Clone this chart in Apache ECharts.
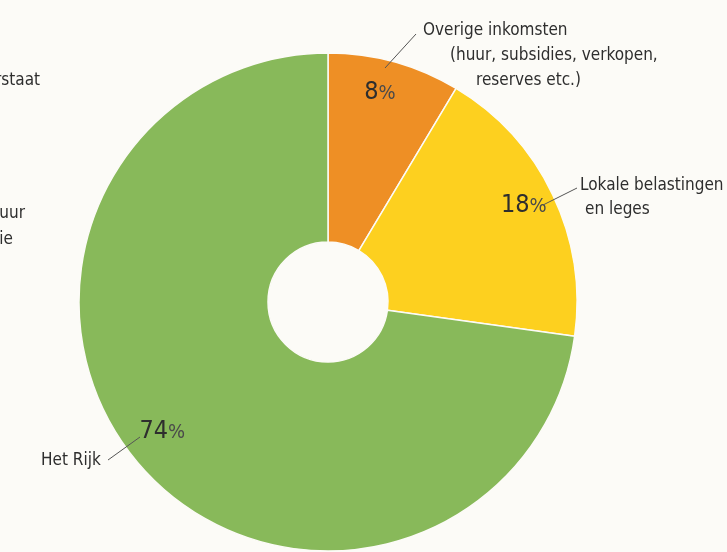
<!DOCTYPE html>
<html>
<head>
<meta charset="utf-8">
<style>
html,body{margin:0;padding:0;background:#fcfbf7;}
#c{width:727px;height:552px;}
</style>
<script src="https://cdn.jsdelivr.net/npm/echarts@6/dist/echarts.min.js"></script>
</head>
<body>
<div id="c"></div>
<script>
// ---- data ----
const categories = ['Overige inkomsten', 'Lokale belastingen en leges', 'Het Rijk'];
const shares = [8.6, 18.6, 72.8];          // slice sizes as drawn
const percentLabels = ['8', '18', '74'];   // printed percentages
const nameLines = [
  ['Overige inkomsten', '(huur, subsidies, verkopen,', 'reserves etc.)'],
  ['Lokale belastingen', 'en leges'],
  ['Het Rijk']
];
const cutOffTexts = ['rstaat', 'uur', 'ie'];

// ---- style / layout ----
const colors = ['#ee8f25', '#fdd01f', '#88b95a'];
const FONT = "'Liberation Sans Narrow', 'DejaVu Sans Condensed', sans-serif";
const TXT = '#2e2e2e';
const center = [328, 302];
const lineIndents = [[0, 27, 53], [0, 5], [0]];
const nameLayout = [
  { x: 423, y: 18, lh: 25, line: [[385, 68], [416, 34], [416, 34]] },
  { x: 580, y: 174, lh: 24, line: [[543, 205], [577, 188], [577, 188]] },
  { x: 41, y: 449, lh: 24, line: [[108, 460], [140, 437], [140, 437]] }
];
const percentNudge = [[-6, 0], [0, -3], [-2, -13]];
const cutOffLayout = [
  { right: 40, y: 82 }, { right: 25, y: 215 }, { right: 13, y: 241 }
];

const chart = echarts.init(document.getElementById('c'), null, { renderer: 'canvas' });

const mainData = categories.map((c, i) => ({
  name: c, value: shares[i], itemStyle: { color: colors[i] }
}));

function nameRich(i) {
  const rich = {};
  lineIndents[i].forEach((ind, k) => {
    rich['l' + k] = {
      fontFamily: FONT, fontSize: 17, color: TXT,
      lineHeight: nameLayout[i].lh, padding: [0, 0, 0, ind]
    };
  });
  return rich;
}

const option = {
  backgroundColor: '#fcfbf7',
  animation: false,
  graphic: cutOffTexts.map((t, i) => ({
    type: 'text',
    right: 727 - cutOffLayout[i].right,
    top: cutOffLayout[i].y - 10,
    style: { text: t, fontFamily: FONT, fontSize: 17, fill: TXT, textAlign: 'right' }
  })),
  series: [
    {
      type: 'pie',
      z: 1,
      center: center,
      radius: [60, 249],
      startAngle: 90,
      clockwise: true,
      silent: true,
      label: { show: false },
      labelLine: { show: false },
      itemStyle: { borderColor: '#fcfbf7', borderWidth: 1.5 },
      data: mainData
    },
    {
      // percentage labels
      type: 'pie',
      z: 3,
      center: center,
      radius: [192, 236],
      startAngle: 90,
      clockwise: true,
      silent: true,
      itemStyle: { color: 'rgba(0,0,0,0)', borderWidth: 0 },
      labelLine: { show: false },
      label: {
        show: true,
        position: 'inside',
        formatter: p => '{n|' + percentLabels[p.dataIndex] + '}{p|%}',
        rich: {
          n: { fontFamily: FONT, fontSize: 25, color: TXT },
          p: { fontFamily: FONT, fontSize: 20, color: '#4a4a4a', padding: [2, 0, 0, 0] }
        }
      },
      labelLayout: p => ({ dx: percentNudge[p.dataIndex][0], dy: percentNudge[p.dataIndex][1] }),
      data: categories.map((c, i) => ({ name: c, value: shares[i] }))
    },
    {
      // name labels with leader lines
      type: 'pie',
      z: 4,
      center: center,
      radius: [60, 249],
      startAngle: 90,
      clockwise: true,
      silent: true,
      itemStyle: { color: 'rgba(0,0,0,0)', borderWidth: 0 },
      label: {
        show: true,
        position: 'outside',
        overflow: 'none',
        formatter: p => nameLines[p.dataIndex].map((l, k) => '{l' + k + '|' + l + '}').join('\n')
      },
      labelLine: { show: true, lineStyle: { color: '#555', width: 1 } },
      labelLayout: p => {
        const L = nameLayout[p.dataIndex];
        return { x: L.x, y: L.y, align: 'left', verticalAlign: 'top', labelLinePoints: L.line };
      },
      data: categories.map((c, i) => ({
        name: c, value: shares[i], label: { rich: nameRich(i) }
      }))
    }
  ]
};
chart.setOption(option);
</script>
</body>
</html>
